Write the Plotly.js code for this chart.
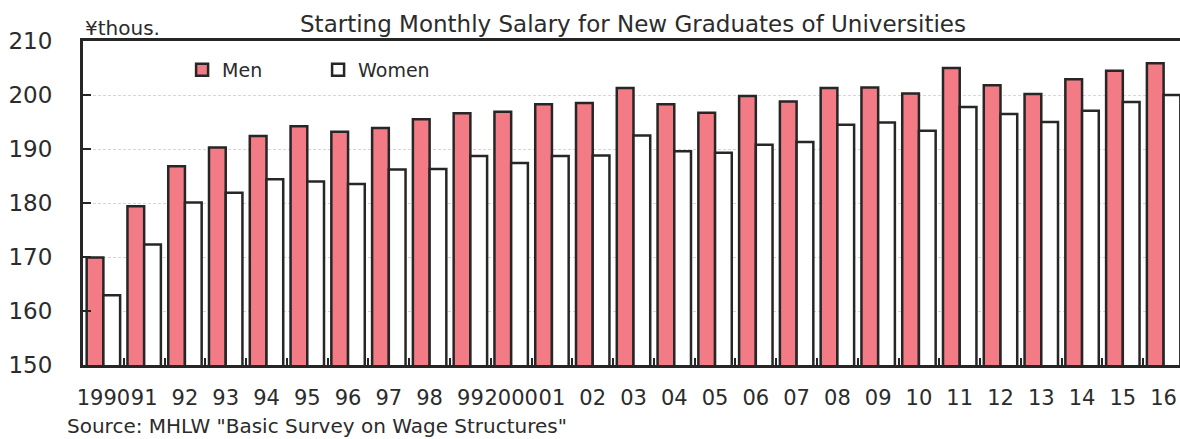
<!DOCTYPE html>
<html><head><meta charset="utf-8">
<script src="https://cdn.plot.ly/plotly-3.0.1.min.js"></script>
<style>html,body{margin:0;padding:0;overflow:hidden;background:#fff}#chart{width:1190px;height:439px}</style>
</head><body><div id="chart"></div>
<script>
const years = ['1990','91','92','93','94','95','96','97','98','99','2000','01','02','03','04','05','06','07','08','09','10','11','12','13','14','15','16'];
const men = [169.9, 179.4, 186.8, 190.3, 192.4, 194.2, 193.2, 193.9, 195.5, 196.6, 196.9, 198.3, 198.5, 201.3, 198.3, 196.7, 199.8, 198.8, 201.3, 201.4, 200.3, 205.0, 201.8, 200.2, 202.9, 204.5, 205.9];
const women = [162.9, 172.3, 180.1, 181.9, 184.4, 184.0, 183.5, 186.2, 186.3, 188.7, 187.4, 188.7, 188.8, 192.5, 189.6, 189.3, 190.8, 191.3, 194.5, 194.9, 193.4, 197.8, 196.5, 195.0, 197.1, 198.7, 200.0];
const yTicks = [150, 160, 170, 180, 190, 200, 210];

const FONT = 'DejaVu Sans, sans-serif';
const TXT = '#2b2b2b';
const EDGE = '#262626';

const traces = [
  {type:'bar', name:'Men', x:years, y:men, marker:{color:'#F27B86', line:{color:EDGE, width:2.5}}},
  {type:'bar', name:'Women', x:years, y:women, marker:{color:'#FFFFFF', line:{color:EDGE, width:2.5}}}
];

const layout = {
  width:1190, height:439,
  margin:{l:83, r:6, t:41, b:74},
  paper_bgcolor:'#fff', plot_bgcolor:'#fff',
  font:{family:FONT, color:TXT},
  barmode:'group', bargap:0.18, bargroupgap:0,
  title:{text:'Starting Monthly Salary for New Graduates of Universities', font:{size:23, color:TXT, family:FONT}, x:(633/1190), xanchor:'center', y:1-24/439, yanchor:'middle', xref:'container', yref:'container'},
  showlegend:true,
  legend:{orientation:'h', x:0.090, xanchor:'left', y:1-(70-41)/324, yanchor:'middle', font:{size:19, color:TXT, family:FONT}, bgcolor:'rgba(0,0,0,0)', borderwidth:0, entrywidth:91, entrywidthmode:'pixels', traceorder:'normal'},
  xaxis:{type:'category', tickangle:0, showline:true, linecolor:EDGE, linewidth:3, mirror:true, ticks:'inside', tickson:'boundaries', ticklen:7, tickwidth:2, tickcolor:EDGE, tickfont:{size:21, color:TXT, family:FONT}, ticklabelstandoff:12, showgrid:false, zeroline:false, fixedrange:true},
  yaxis:{range:[150,210], tickvals:yTicks, ticktext:yTicks.map(String), showline:true, linecolor:EDGE, linewidth:3, ticks:'inside', ticklen:8, tickwidth:2, tickcolor:EDGE, tickfont:{size:23, color:TXT, family:FONT}, ticklabelstandoff:23, showgrid:true, gridcolor:'#d6d6d6', gridwidth:1, griddash:'3px,2px', zeroline:false, fixedrange:true},
  annotations:[
    {text:'¥thous.', xref:'paper', yref:'paper', x:0, y:1, xanchor:'left', yanchor:'bottom', yshift:-1, showarrow:false, font:{size:20, color:TXT, family:FONT}},
    {text:'Source: MHLW "Basic Survey on Wage Structures"', xref:'paper', yref:'paper', x:(65-83)/1101, y:-(426-365)/324, xanchor:'left', yanchor:'middle', showarrow:false, font:{size:20, color:TXT, family:FONT}}
  ]
};

Plotly.newPlot('chart', traces, layout, {displayModeBar:false, staticPlot:true});
</script></body></html>
